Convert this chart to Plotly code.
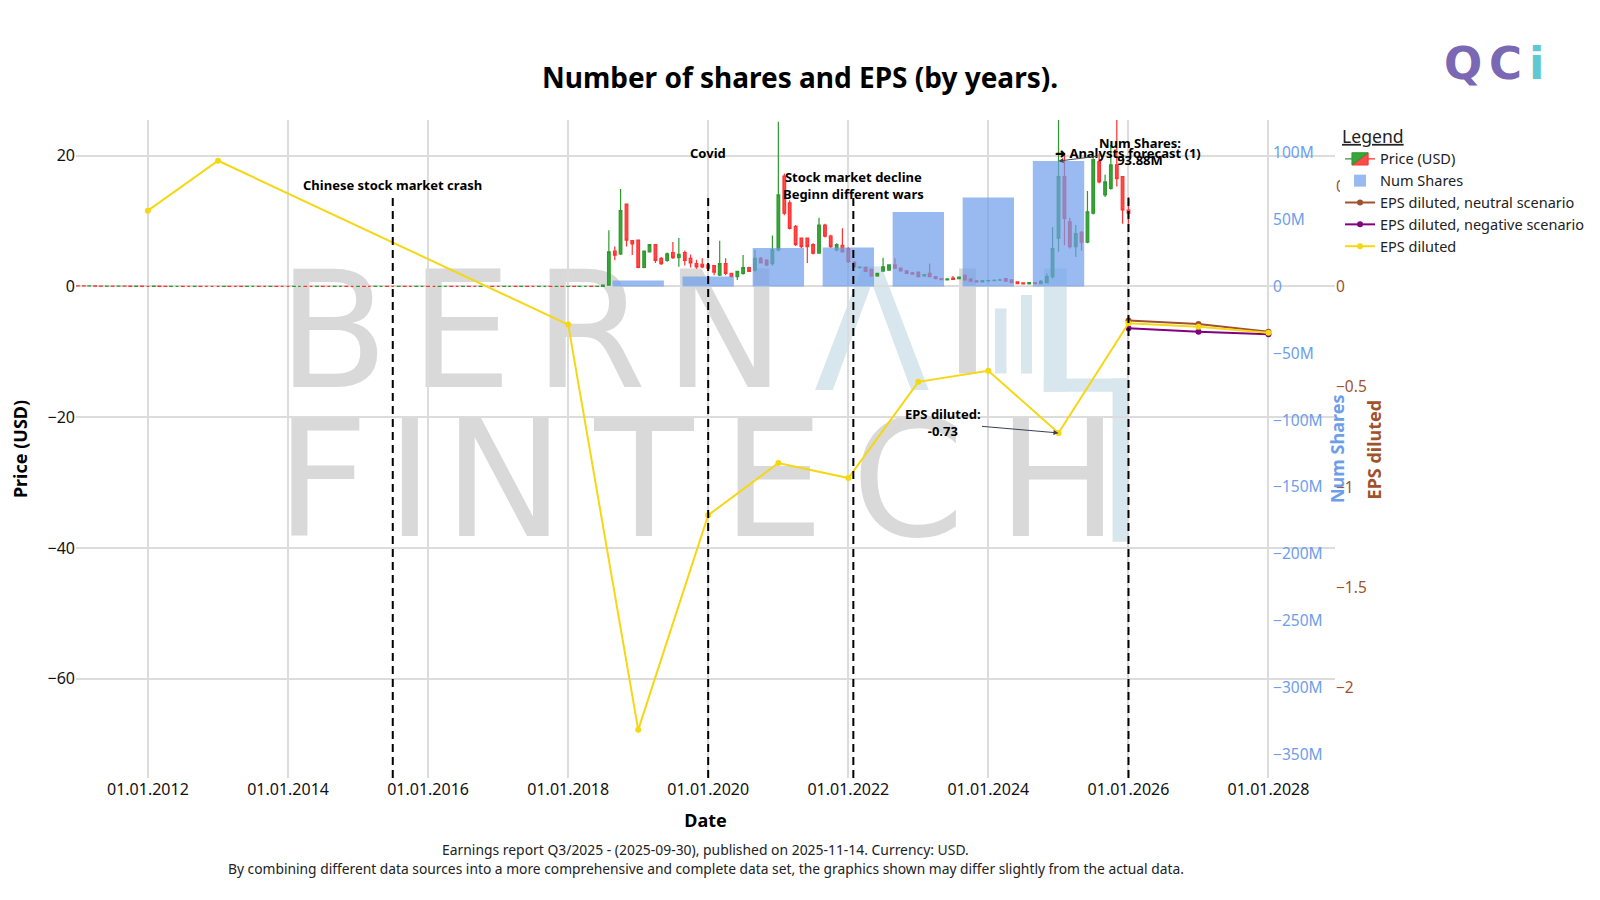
import plotly.graph_objects as go
import pandas as pd

# ---------------- DATA ----------------
price_months = pd.date_range("2011-01-01", "2026-01-01", freq="MS")

price_open = [
    0.09,0.08,0.07,0.09,0.06,0.05,0.06,0.04,0.05,0.04,0.03,0.04,
    0.03,0.03,0.04,0.03,0.02,0.03,0.03,0.02,0.02,0.03,0.02,0.02,
    0.02,0.02,0.03,0.02,0.02,0.01,0.02,0.02,0.01,0.01,0.02,0.01,
    0.01,0.01,0.02,0.02,0.01,0.01,0.02,0.01,0.01,0.02,0.02,0.01,
    0.01,0.02,0.01,0.01,0.02,0.02,0.01,0.01,0.02,0.01,0.01,0.02,
    0.02,0.01,0.01,0.02,0.02,0.01,0.01,0.02,0.01,0.01,0.02,0.02,
    0.01,0.01,0.02,0.02,0.01,0.02,0.01,0.01,0.02,0.02,0.01,0.02,
    0.01,0.02,0.01,0.02,0.02,0.01,0.02,0.2,5.4,5.0,12.6,7.0,
    7.1,2.9,5.3,6.4,4.3,4.0,5.2,4.4,5.2,4.3,3.5,3.4,
    3.3,3.2,1.75,3.5,2.0,1.5,2.0,2.9,2.5,4.3,4.0,3.5,
    5.6,16.9,12.8,9.2,7.4,7.4,6.4,5.1,9.4,7.7,5.6,6.3,
    5.8,3.7,2.9,2.9,2.6,1.6,2.35,2.5,3.3,2.8,2.4,2.1,
    2.2,1.6,2.0,1.5,1.2,1.0,1.3,1.2,1.7,1.1,0.85,0.7,
    0.85,0.9,0.95,1.2,1.0,0.7,0.55,0.4,0.6,0.45,0.6,1.5,
    7.4,16.8,9.9,6.1,8.3,6.8,11.2,19.1,14.0,15.0,18.6,16.8,
    11.7,
]
price_close = [
    0.08,0.07,0.09,0.06,0.05,0.06,0.04,0.05,0.04,0.03,0.04,0.03,
    0.03,0.04,0.03,0.02,0.03,0.03,0.02,0.02,0.03,0.02,0.02,0.02,
    0.02,0.03,0.02,0.02,0.01,0.02,0.02,0.01,0.01,0.02,0.01,0.01,
    0.01,0.02,0.02,0.01,0.01,0.02,0.01,0.01,0.02,0.02,0.01,0.01,
    0.02,0.01,0.01,0.02,0.02,0.01,0.01,0.02,0.01,0.01,0.02,0.02,
    0.01,0.01,0.02,0.02,0.01,0.01,0.02,0.01,0.01,0.02,0.02,0.01,
    0.01,0.02,0.02,0.01,0.02,0.01,0.01,0.02,0.02,0.01,0.02,0.01,
    0.02,0.01,0.02,0.02,0.01,0.02,0.2,5.3,4.8,11.6,7.1,6.5,
    2.9,5.4,6.4,4.0,3.5,5.0,4.4,4.9,4.0,3.6,3.0,3.0,
    2.8,2.2,3.5,2.0,1.5,2.3,2.9,2.3,4.3,3.6,3.3,5.6,
    14.0,11.2,8.9,6.4,6.1,6.1,5.1,9.4,7.7,6.1,6.4,5.3,
    3.8,3.0,2.95,2.3,1.6,2.0,3.0,3.3,2.8,2.4,2.0,1.9,
    1.5,1.8,1.5,1.2,1.05,1.15,1.1,1.45,1.0,0.8,0.7,0.9,
    0.9,0.95,1.0,0.8,0.6,0.45,0.4,0.6,0.45,0.8,1.5,5.8,
    16.8,10.4,6.1,8.1,6.8,11.4,19.4,16.0,16.0,18.6,16.5,11.7,
    11.2,
]
price_high = [
    0.10,0.09,0.10,0.10,0.07,0.07,0.07,0.06,0.06,0.05,0.05,0.05,
    0.04,0.05,0.05,0.04,0.04,0.04,0.04,0.03,0.04,0.04,0.03,0.03,
    0.03,0.04,0.04,0.03,0.03,0.03,0.03,0.03,0.02,0.03,0.03,0.02,
    0.02,0.03,0.03,0.03,0.02,0.03,0.03,0.02,0.03,0.03,0.03,0.02,
    0.03,0.03,0.02,0.03,0.03,0.03,0.02,0.03,0.03,0.02,0.03,0.03,
    0.03,0.02,0.03,0.03,0.03,0.02,0.03,0.03,0.02,0.03,0.03,0.03,
    0.02,0.03,0.03,0.03,0.03,0.03,0.02,0.03,0.03,0.03,0.03,0.03,
    0.03,0.03,0.03,0.03,0.03,0.03,0.3,8.6,6.1,14.9,12.6,7.1,
    7.2,5.5,6.5,6.5,4.5,5.2,6.8,7.4,5.5,4.9,4.1,4.3,
    3.5,3.3,7.0,4.3,2.1,2.4,4.8,3.0,5.6,4.5,4.2,7.8,
    25.2,17.3,13.2,9.4,7.5,7.5,6.6,10.5,9.6,7.9,6.6,8.9,
    6.0,3.9,3.1,3.1,2.7,2.1,4.4,3.4,4.3,2.9,2.5,2.2,
    2.3,1.9,3.5,1.6,1.3,1.2,1.6,1.5,1.75,1.3,1.0,1.0,
    1.0,1.1,1.2,1.3,1.05,0.8,0.6,0.7,0.65,1.0,2.0,9.1,
    25.5,20.4,10.5,9.4,8.5,14.6,19.6,20.4,17.1,21.6,25.5,16.9,
    13.7,
]
price_low = [
    0.07,0.06,0.06,0.05,0.04,0.04,0.03,0.03,0.03,0.02,0.02,0.02,
    0.02,0.02,0.02,0.01,0.01,0.02,0.01,0.01,0.01,0.01,0.01,0.01,
    0.01,0.01,0.01,0.01,0.0,0.0,0.01,0.0,0.0,0.0,0.0,0.0,
    0.0,0.0,0.01,0.0,0.0,0.0,0.0,0.0,0.0,0.01,0.0,0.0,
    0.0,0.0,0.0,0.0,0.01,0.0,0.0,0.0,0.0,0.0,0.0,0.01,
    0.0,0.0,0.0,0.01,0.0,0.0,0.0,0.0,0.0,0.0,0.01,0.0,
    0.0,0.0,0.01,0.0,0.0,0.0,0.0,0.0,0.01,0.0,0.0,0.0,
    0.0,0.0,0.0,0.01,0.0,0.0,0.01,0.1,4.0,4.8,6.1,4.8,
    2.8,2.8,5.2,3.6,3.3,3.8,4.2,3.0,3.2,2.9,2.7,2.8,
    2.6,1.7,1.6,1.7,1.5,1.0,1.8,2.2,2.3,3.5,3.1,3.2,
    5.4,10.9,8.7,6.2,5.9,3.6,4.9,5.0,7.5,5.9,5.4,5.2,
    3.6,2.9,2.7,2.2,1.5,1.5,2.3,2.4,2.7,2.3,1.9,1.8,
    1.4,1.5,1.4,1.1,1.0,0.95,1.0,1.1,0.95,0.75,0.65,0.65,
    0.75,0.8,0.85,0.75,0.5,0.4,0.35,0.35,0.4,0.4,0.55,1.2,
    5.3,6.3,5.8,4.5,5.5,6.6,11.0,15.8,13.7,14.8,15.3,9.6,
    9.6,
]

shares_years = ["2019-01-01", "2020-01-01", "2021-01-01", "2022-01-01",
                "2023-01-01", "2024-01-01", "2025-01-01"]
num_shares = [4.5e6, 7.5e6, 28.8e6, 29.2e6, 55.7e6, 66.7e6, 93.88e6]

eps_years = ["2012-01-01", "2013-01-01", "2018-01-01", "2019-01-01", "2020-01-01",
             "2021-01-01", "2022-01-01", "2023-01-01", "2024-01-01", "2025-01-01",
             "2026-01-01", "2027-01-01", "2028-01-01"]
eps_diluted = [0.378, 0.627, -0.19, -2.21, -1.14, -0.88, -0.955, -0.475, -0.42,
               -0.73, -0.183, -0.20, -0.23]

scen_years = ["2026-01-01", "2027-01-01", "2028-01-01"]
eps_neutral = [-0.17, -0.187, -0.225]
eps_negative = [-0.208, -0.225, -0.238]

events = [
    ("2015-07-01", "Chinese stock market crash", 0.9007),
    ("2020-01-01", "Covid", 0.9504),
    ("2022-01-27", "Stock market decline<br>Beginn different wars", 0.9012),
    ("2026-01-01", "➜ Analysts forecast (1)", 0.9504),
]

# ---------------- STYLE ----------------
FONT = "Noto Sans"
BLUE = "#6d9eeb"
BROWN = "#a0522d"
PURPLE = "#800080"
YELLOW = "#f5d714"
GRID = "#dcdcdc"
WM_GRAY = "#d9d9d9"
WM_BLUE = "#d8e7ed"

fig = go.Figure()

fig.add_trace(go.Candlestick(
    x=price_months, open=price_open, high=price_high, low=price_low, close=price_close,
    name="Price (USD)",
    increasing=dict(line=dict(color="#2e9a2e", width=1.2), fillcolor="#3aa53a"),
    decreasing=dict(line=dict(color="#ff3030", width=1.2), fillcolor="#ff4a4a"),
    yaxis="y", xaxis="x",
))

fig.add_trace(go.Bar(
    x=shares_years, y=num_shares, name="Num Shares",
    marker=dict(color=BLUE, line=dict(width=0)), opacity=0.7,
    width=268 * 86400000, yaxis="y2",
))

fig.add_trace(go.Scatter(
    x=scen_years, y=eps_neutral, name="EPS diluted, neutral scenario",
    mode="lines+markers", line=dict(color=BROWN, width=2), marker=dict(size=6),
    yaxis="y3",
))
fig.add_trace(go.Scatter(
    x=scen_years, y=eps_negative, name="EPS diluted, negative scenario",
    mode="lines+markers", line=dict(color=PURPLE, width=2), marker=dict(size=6),
    yaxis="y3",
))
fig.add_trace(go.Scatter(
    x=eps_years, y=eps_diluted, name="EPS diluted",
    mode="lines+markers", line=dict(color=YELLOW, width=2), marker=dict(size=6),
    yaxis="y3",
))

shapes = []
annotations = []

# watermark (between grid and traces)
def wm_letter(cx, cy, text, color, size=162):
    return dict(type="rect", xref="paper", yref="paper", x0=cx - 0.05, x1=cx + 0.05,
                y0=cy - 0.1, y1=cy + 0.1, line=dict(width=0), fillcolor="rgba(0,0,0,0)",
                layer="between",
                label=dict(text=text, font=dict(family="DejaVu Sans", size=size, color=color),
                           textposition="middle center"))

def wm_rect(x0, x1, y0, y1, color):
    return dict(type="rect", xref="paper", yref="paper", x0=x0, x1=x1, y0=y0, y1=y1,
                line=dict(width=0), fillcolor=color, layer="between")

ROW1, ROW2 = 0.697, 0.4704
for cx, ch in [(0.2041, "B"), (0.3058, "E"), (0.4083, "R"), (0.5151, "N")]:
    shapes.append(wm_letter(cx, ROW1, ch, WM_GRAY))
shapes.append(wm_letter(0.6322, ROW1, "Λ", WM_BLUE, 170))
for cx, ch in [(0.1954, "F"), (0.2653, "I"), (0.3399, "N"), (0.4512, "T"),
               (0.5536, "E"), (0.6608, "C"), (0.7800, "H")]:
    shapes.append(wm_letter(cx, ROW2, ch, WM_GRAY))
shapes += [
    wm_rect(0.7014, 0.7148, 0.6147, 0.7743, WM_GRAY),
    wm_rect(0.7299, 0.7391, 0.6147, 0.7135, WM_BLUE),
    wm_rect(0.7506, 0.7593, 0.6147, 0.7340, WM_BLUE),
    wm_rect(0.7687, 0.7869, 0.5870, 0.7743, WM_BLUE),
    wm_rect(0.7687, 0.8348, 0.5870, 0.6071, WM_BLUE),
    wm_rect(0.8233, 0.8348, 0.3590, 0.6071, WM_BLUE),
]

# vertical event lines + labels
for d, txt, ty in events:
    shapes.append(dict(type="line", xref="x", yref="paper", x0=d, x1=d, y0=0, y1=0.888,
                       line=dict(color="black", width=2, dash="8px,5px"), layer="above"))
    annotations.append(dict(x=d, y=ty, xref="x", yref="paper", text="<b>%s</b>" % txt,
                            showarrow=False, font=dict(family=FONT, size=13, color="black"),
                            xanchor="center", yanchor="middle"))

# data annotations
annotations.append(dict(x="2025-01-01", y=93.88e6, xref="x", yref="y2",
                        text="<b>Num Shares:<br>93.88M</b>", showarrow=True,
                        ax=81, ay=-10, arrowhead=2, arrowwidth=1, arrowcolor="#444",
                        font=dict(family=FONT, size=13, color="black")))
annotations.append(dict(x="2025-01-01", y=-0.73, xref="x", yref="y3",
                        text="<b>EPS diluted:<br>-0.73</b>", showarrow=True,
                        ax=-116, ay=-10, arrowhead=2, arrowwidth=1, arrowcolor="#3a4050",
                        font=dict(family=FONT, size=13, color="black")))

# right axis titles
annotations.append(dict(xref="paper", yref="paper", x=1.0016, y=0.5, xanchor="center", yanchor="middle",
                        text="<b>Num Shares</b>", textangle=-90, showarrow=False,
                        font=dict(family=FONT, size=18, color=BLUE)))
annotations.append(dict(xref="paper", yref="paper", x=1.0313, y=0.5, xanchor="center", yanchor="middle",
                        text="<b>EPS diluted</b>", textangle=-90, showarrow=False,
                        font=dict(family=FONT, size=18, color=BROWN)))

# logo
for lx, ltxt, lcol in [(1.1017, "Q", "#7a68b5"), (1.1358, "C", "#7a68b5"), (1.1604, "i", "#5ec8d3")]:
    annotations.append(dict(xref="paper", yref="paper", x=lx, y=1.0866,
                            xanchor="center", yanchor="middle", text="<b>%s</b>" % ltxt,
                            showarrow=False, font=dict(family="DejaVu Sans", size=45, color=lcol)))

# footer
annotations.append(dict(xref="paper", yref="paper", x=0.5, y=-0.108, xanchor="center", yanchor="middle",
                        text="Earnings report Q3/2025 - (2025-09-30), published on 2025-11-14. Currency: USD.",
                        showarrow=False, font=dict(family=FONT, size=13.9, color="#222")))
annotations.append(dict(xref="paper", yref="paper", x=0.5, y=-0.137, xanchor="center", yanchor="middle",
                        text="By combining different data sources into a more comprehensive and complete data set, the graphics shown may differ slightly from the actual data.",
                        showarrow=False, font=dict(family=FONT, size=13.8, color="#222")))

fig.update_layout(
    width=1600, height=900,
    margin=dict(l=76, r=265, t=120, b=122, autoexpand=False),
    paper_bgcolor="white", plot_bgcolor="white",
    font=dict(family=FONT, color="#222"),
    title=dict(text="<b>Number of shares and EPS (by years).</b>", x=0.5, xanchor="center",
               y=0.9127, yanchor="middle", font=dict(family=FONT, size=28, color="black")),
    showlegend=True,
    legend=dict(x=1.004, y=1.0, xanchor="left", yanchor="top", bgcolor="white",
                font=dict(family=FONT, size=14.5, color="#222"),
                title=dict(text="<span style='text-decoration:underline'>Legend</span>",
                           font=dict(family=FONT, size=17.6, color="#222")),
                tracegroupgap=0),
    xaxis=dict(type="date", range=["2010-12-22", "2028-12-13"], tickformat="%d.%m.%Y",
               dtick="M24", tick0="2012-01-01", showgrid=True, gridcolor=GRID, gridwidth=2,
               zeroline=False, showline=False, rangeslider=dict(visible=False),
               tickfont=dict(family=FONT, size=16, color="#111"),
               title=dict(text="<b>Date</b>", font=dict(family=FONT, size=18, color="black"))),
    yaxis=dict(range=[-75.2, 25.47], dtick=20, showgrid=True, gridcolor=GRID, gridwidth=2,
               zeroline=False, tickfont=dict(family=FONT, size=16, color="#111"),
               title=dict(text="<b>Price (USD)</b>", font=dict(family=FONT, size=18, color="black"))),
    yaxis2=dict(overlaying="y", side="right", anchor="free", position=0.95,
                range=[-367.7e6, 124.6e6], dtick=50e6, showgrid=False, zeroline=False,
                tickfont=dict(family=FONT, size=15.5, color=BLUE)),
    yaxis3=dict(overlaying="y", side="right", anchor="x",
                range=[-2.45, 0.83], dtick=0.5, showgrid=False, zeroline=False,
                tickfont=dict(family=FONT, size=15.5, color=BROWN)),
    shapes=shapes,
    annotations=annotations,
)

fig.write_html("out.html")
